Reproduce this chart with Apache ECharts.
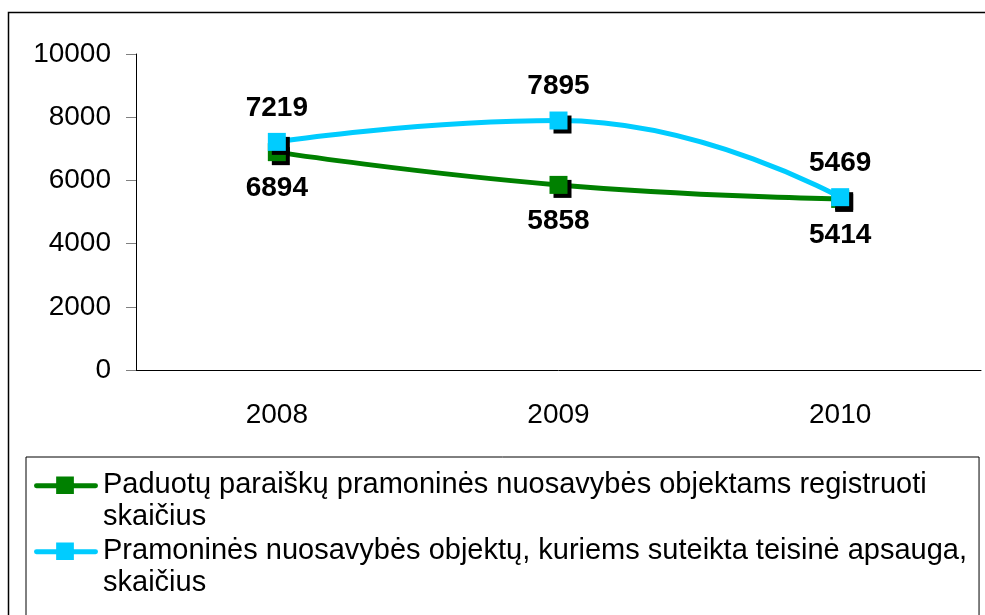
<!DOCTYPE html>
<html>
<head>
<meta charset="utf-8">
<script src="https://cdn.jsdelivr.net/npm/echarts@6/dist/echarts.min.js"></script>
<style>
  html, body { margin: 0; padding: 0; background: #fff; }
  #main { width: 985px; height: 615px; }
</style>
</head>
<body>
<div id="main"></div>
<script>
// duomenys
var years = ['2008', '2009', '2010'];
var paduota = [6894, 5858, 5414];
var apsaugota = [7219, 7895, 5469];
var seriesNames = [
    'Paduotų paraiškų pramoninės nuosavybės objektams registruoti skaičius',
    'Pramoninės nuosavybės objektų, kuriems suteikta teisinė apsauga, skaičius'
];
var yTicks = [0, 2000, 4000, 6000, 8000, 10000];

var font = '"Liberation Sans", Arial, sans-serif';
// legendos ikonėlė: linija + kvadratas viršutinėje dalyje
var legendIcon = 'path://M0 0 L0 0 M0 64 L0 64 M2 14 L62 14 A2.5 2.5 0 0 1 62 19 L2 19 A2.5 2.5 0 0 1 2 14 Z M22 7 L40 7 L40 25 L22 25 Z';

var chart = echarts.init(document.getElementById('main'));

chart.setOption({
    animation: false,
    backgroundColor: '#fff',
    textStyle: { fontFamily: font },
    graphic: [{
        type: 'rect',
        shape: { x: 8.5, y: 12.5, width: 1000, height: 640 },
        style: { fill: 'none', stroke: '#000', lineWidth: 1.5 },
        silent: true
    }],
    grid: { left: 136, right: 4, top: 54, bottom: 245 },
    legend: {
        orient: 'vertical',
        left: 26, top: 457, height: 200,
        padding: [12, 12, 20, 8],
        borderColor: '#000', borderWidth: 1,
        itemWidth: 64, itemHeight: 64, itemGap: 2,
        icon: legendIcon,
        itemStyle: { borderWidth: 0 },
        data: seriesNames,
        formatter: function (name) {
            return name.replace(/ skaičius$/, '\nskaičius');
        },
        textStyle: { fontFamily: font, fontSize: 29, lineHeight: 32, color: '#000' }
    },
    xAxis: {
        type: 'category',
        data: years,
        boundaryGap: true,
        axisLine: { lineStyle: { color: '#000', width: 1 } },
        axisTick: { length: 9, lineStyle: { color: '#000' } },
        axisLabel: { margin: 31, fontSize: 28, color: '#000', fontFamily: font }
    },
    yAxis: {
        type: 'value',
        min: yTicks[0], max: yTicks[yTicks.length - 1], interval: 2000,
        axisLine: { show: true, lineStyle: { color: '#000', width: 1 } },
        axisTick: { show: true, length: 10, lineStyle: { color: '#808080' } },
        splitLine: { show: false },
        axisLabel: {
            margin: 25, fontSize: 28, color: '#000', fontFamily: font,
            formatter: function (v) { return String(v); }
        }
    },
    series: [{
        name: seriesNames[0],
        type: 'line',
        data: paduota,
        smooth: 0.5,
        symbol: 'rect', symbolSize: 18,
        z: 2,
        lineStyle: { color: '#008000', width: 5 },
        itemStyle: { color: '#008000', shadowColor: '#000', shadowOffsetX: 4, shadowOffsetY: 4, shadowBlur: 0 },
        label: { show: true, position: 'bottom', distance: 13, fontSize: 28, fontWeight: 'bold', color: '#000', fontFamily: font }
    }, {
        name: seriesNames[1],
        type: 'line',
        data: apsaugota,
        smooth: 0.5,
        symbol: 'rect', symbolSize: 18,
        z: 3,
        lineStyle: { color: '#00CCFF', width: 5 },
        itemStyle: { color: '#00CCFF', shadowColor: '#000', shadowOffsetX: 4, shadowOffsetY: 4, shadowBlur: 0 },
        label: { show: true, position: 'top', distance: 11, fontSize: 28, fontWeight: 'bold', color: '#000', fontFamily: font }
    }]
});
</script>
</body>
</html>
